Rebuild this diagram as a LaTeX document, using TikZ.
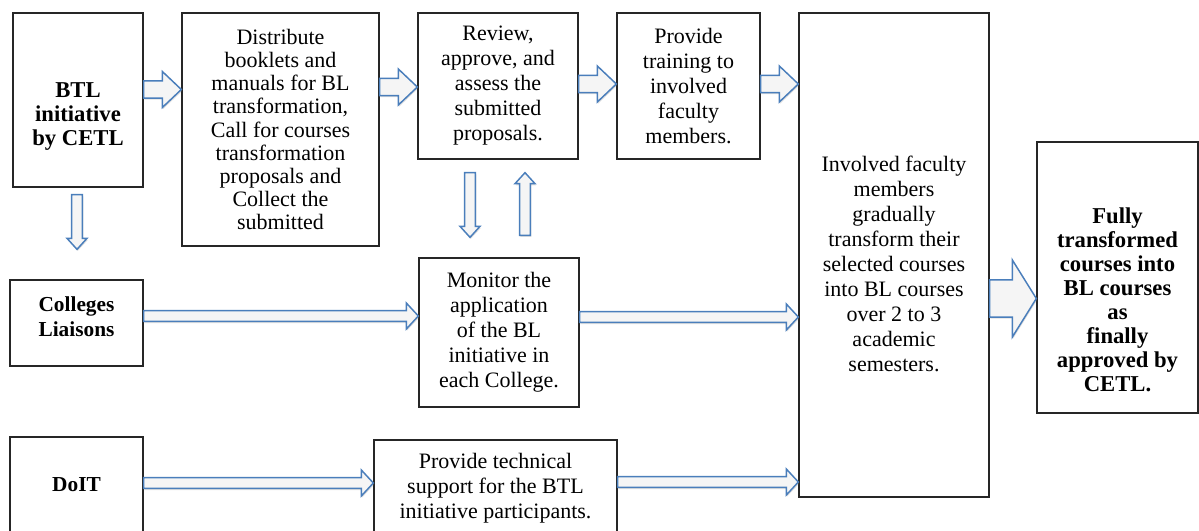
\documentclass[tikz,border=0pt]{standalone}
\usepackage{fontspec}
\setmainfont{Liberation Serif}
\usetikzlibrary{calc,shadows}
\definecolor{arrowblue}{HTML}{4A7EBB}

\tikzset{every picture/.style={line width=0.75pt}}
\tikzset{
  box/.style={draw=black!85, line width=1pt, inner sep=0pt, fill=white,
    font=\fontsize{16.5}{18.75}\selectfont, align=center},
  plaintext/.style={font=\fontsize{16.5}{18.75}\selectfont, align=center, inner sep=0pt},
  boldtext/.style={font=\fontsize{17}{18}\selectfont\bfseries, align=center, inner sep=0pt},
  blockarrow/.style n args={3}{draw=arrowblue, line width=1.1pt, fill=black!4,
    drop shadow={opacity=0.25, shadow xshift=0.6pt, shadow yshift=-1.2pt},
    to path={let \p1=(\tikztostart), \p2=(\tikztotarget) in
      ($(\p1)!#1!90:(\p2)$)
      -- ($(\p2)!#3!(\p1)!#1!-90:(\p1)$)
      -- ($(\p2)!#3!(\p1)!#2!-90:(\p1)$)
      -- (\p2)
      -- ($(\p2)!#3!(\p1)!#2!90:(\p1)$)
      -- ($(\p2)!#3!(\p1)!#1!90:(\p1)$)
      -- ($(\p1)!#1!-90:(\p2)$)
      -- cycle}},
  toparrow/.style={blockarrow={6.4pt}{13.5pt}{14.25pt}},
  longarrow/.style={blockarrow={4.1pt}{9.75pt}{9pt}},
  vertarrow/.style={blockarrow={4.1pt}{7.5pt}{8.25pt}},
  finalarrow/.style={blockarrow={13.9pt}{28.9pt}{18pt}}
}

\begin{document}
\begin{tikzpicture}[x=0.75pt,y=0.75pt,yscale=-1,xscale=1]
\useasboundingbox (0,0) rectangle (1199,531);
\clip (0,0) rectangle (1199,531);

        % boxes
        \node[box, minimum width=97.5pt, minimum height=130.5pt] (btl) at (78,100) {};
        \node[boldtext] at ($(btl)+(0,17)$) {BTL\\initiative\\by CETL};
        \node[box, minimum width=147.75pt, minimum height=174.75pt, font=\fontsize{16.5}{17.4}\selectfont] (dist) at (280.5,129.5)
            {Distribute\\booklets and\\manuals for BL\\transformation,\\Call for courses\\transformation\\proposals and\\Collect the\\submitted};
        \node[box, minimum width=120pt, minimum height=109.5pt] (review) at (498,86)
            {Review,\\approve, and\\assess the\\submitted\\proposals.};
        \node[box, minimum width=107.25pt, minimum height=109.5pt] (train) at (688.5,86)
            {Provide\\training to\\involved\\faculty\\members.};
        \node[box, minimum width=142.5pt, minimum height=363pt] (faculty) at (894,255) {};
        \node[plaintext] at ($(faculty)+(0,8.5)$)
            {Involved faculty\\members\\gradually\\transform their\\selected courses\\into BL courses\\over 2 to 3\\academic\\semesters.};
        \node[box, minimum width=120.75pt, minimum height=203.25pt] (fully) at (1117.5,277.5) {};
        \node[boldtext] at ($(fully)+(0,22)$) {Fully\\transformed\\courses into\\BL courses\\as\\finally\\approved by\\CETL.};
        \node[box, minimum width=99.75pt, minimum height=64.5pt] (colleges) at (76.5,323) {};
        \node[boldtext, font=\fontsize{16}{18.75}\selectfont\bfseries] at ($(colleges)+(0,-6)$) {Colleges\\Liaisons};
        \node[box, minimum width=120pt, minimum height=111.75pt] (monitor) at (499,332.5)
            {Monitor the\\application\\of the BL\\initiative in\\each College.};
        \node[box, minimum width=99.75pt, minimum height=72pt, font=\fontsize{16}{18.75}\selectfont\bfseries] (doit) at (76.5,485)
            {DoIT};
        \node[box, minimum width=182.25pt, minimum height=72pt] (tech) at (495.5,488)
            {Provide technical\\support for the BTL\\initiative participants.};

        % arrows, top row
        \draw[toparrow] (btl.east |- 0,89.5) to (dist.west |- 0,89.5);
        \draw[toparrow] (dist.east |- 0,87) to (review.west |- 0,87);
        \draw[toparrow] (review.east |- 0,84) to (train.west |- 0,84);
        \draw[toparrow] (train.east |- 0,84) to (faculty.west |- 0,84);

        % arrows between rows
        \draw[vertarrow] ($(btl.south)+(-1,7)$) to ($(colleges.north)+(0.5,-30)$);
        \draw[vertarrow] ($(review.south)+(-28,13)$) to ($(monitor.north)+(-29,-20)$);
        \draw[vertarrow] ($(monitor.north)+(26,-22)$) to ($(review.south)+(27,13)$);

        % long arrows
        \draw[longarrow] (colleges.east |- 0,316) to (monitor.west |- 0,316);
        \draw[longarrow] (monitor.east |- 0,317) to (faculty.west |- 0,317);
        \draw[longarrow] (doit.east |- 0,483) to (tech.west |- 0,483);
        \draw[longarrow] (tech.east |- 0,482) to (faculty.west |- 0,482);

        \draw[finalarrow] (faculty.east |- 0,298.5) to (fully.west |- 0,298.5);

\end{tikzpicture}
\end{document}
